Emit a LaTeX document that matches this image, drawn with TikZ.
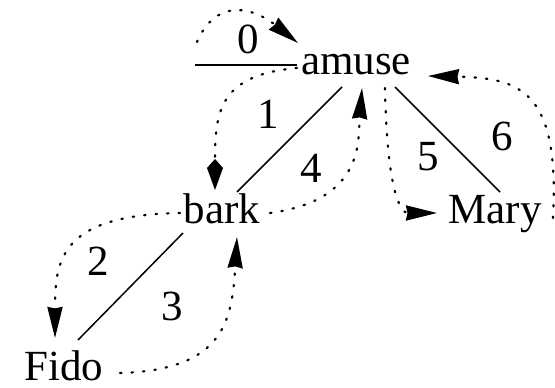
\documentclass[tikz,border=0pt]{standalone}
\usepackage{fontspec}
\setmainfont{Liberation Serif}
\usetikzlibrary{arrows.meta}
\begin{document}
\begin{tikzpicture}[x=1pt,y=-1pt,
  word/.style={anchor=base,inner sep=0pt,font=\fontsize{43}{50}\selectfont},
  num/.style={anchor=base,inner sep=0pt,font=\fontsize{43}{50}\selectfont},
  solidline/.style={line width=1.5pt},
  dotline/.style={line width=2.2pt,line cap=round,dash pattern=on 1.5pt off 10pt},
  tri/.style={-{Stealth[length=31pt,width=15pt,inset=1.5pt]}},
  kite/.style={-{Kite[length=31pt,width=16pt,inset=9pt]}}]
\useasboundingbox (0,0) rectangle (555,388);
% words
\node[word] (amuse) at (356,74) {amuse};
\node[word] (bark) at (222,223) {bark};
\node[word] (Fido) at (64,380) {Fido};
\node[word] (Mary) at (495,223) {Mary};
% labels
\node[num] (l0) at (248,53) {0};
\node[num] (l1) at (268,128) {1};
\node[num] (l4) at (311,182) {4};
\node[num] (l2) at (98,275) {2};
\node[num] (l3) at (172,320) {3};
\node[num] (l5) at (428,170) {5};
\node[num] (l6) at (502,150) {6};
% free ends
\coordinate (c0) at (195,65);
\coordinate (c0s) at (197,42);
% solid lines
\draw[solidline] ([shift={(-59,-9)}]amuse.base) -- (c0);
\draw[solidline] ([shift={(-14,13)}]amuse.base) -- ([shift={(15,-31)}]bark.base);
\draw[solidline] ([shift={(-39,10)}]bark.base) -- ([shift={(14,-40)}]Fido.base);
\draw[solidline] ([shift={(39,13)}]amuse.base) -- ([shift={(5,-31)}]Mary.base);
% dotted arrows
\draw[dotline,tri] (c0s) .. controls (215,0) and (250,5) .. ([shift={(-58,-31)}]amuse.base);
\draw[dotline,kite] ([shift={(-59,-6)}]amuse.base) .. controls (220,75) and (215,110) .. ([shift={(-7,-33)}]bark.base);
\draw[dotline,tri] ([shift={(48,-10)}]bark.base) .. controls (365,200) and (358,140) .. ([shift={(6,14)}]amuse.base);
\draw[dotline,tri] ([shift={(-42,-10)}]bark.base) .. controls (60,215) and (55,260) .. ([shift={(-9,-42)}]Fido.base);
\draw[dotline,tri] ([shift={(56,-7)}]Fido.base) .. controls (225,370) and (232,320) .. ([shift={(15,14)}]bark.base);
\draw[dotline,tri] ([shift={(29,14)}]amuse.base) .. controls (387,190) and (400,213) .. ([shift={(-58,-10)}]Mary.base);
\draw[dotline,tri] ([shift={(58,-5)}]Mary.base) .. controls (560,90) and (520,78) .. ([shift={(72,2)}]amuse.base);
\end{tikzpicture}
\end{document}
